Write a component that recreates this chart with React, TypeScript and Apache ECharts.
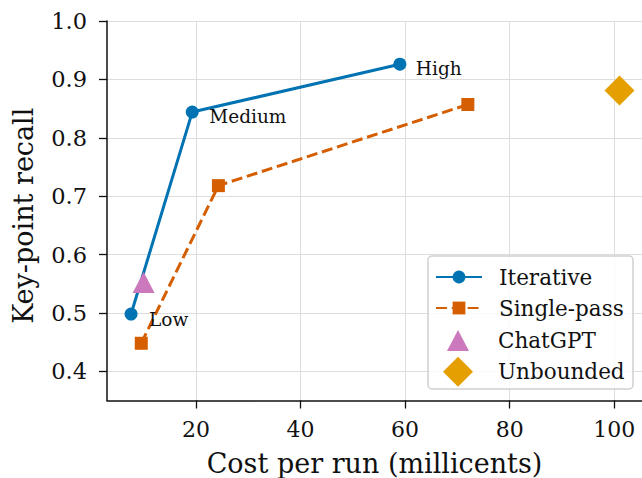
import React, { useEffect, useRef } from "react";
import * as echarts from "echarts";

const pointLabels = ["Low", "Medium", "High"];
const iterativeX = [7.6, 19.3, 59.0];
const iterativeY = [0.498, 0.844, 0.926];
const singleX = [9.55, 24.3, 72.0];
const singleY = [0.448, 0.718, 0.857];
const chatgptX = [10.0];
const chatgptY = [0.552];
const unboundedX = [101.0];
const unboundedY = [0.881];
const xTicks = [20, 40, 60, 80, 100];
const yTicks = [0.4, 0.5, 0.6, 0.7, 0.8, 0.9, 1.0];

const FONT = "DejaVu Serif";
const BLUE = "#0173b2";
const ORANGE = "#d55e00";
const PINK = "#cc78bc";
const GOLD = "#e69f00";
const INK = "#111";

export default function App() {
  const ref = useRef<HTMLDivElement>(null);
  useEffect(() => {
    if (!ref.current) return;
    const chart = echarts.init(ref.current, null, { renderer: "svg" });
    const labelOffsets = [[11.5, 5.3], [10.5, 4.7], [9.5, 4]];
    const legendBase = {
      orient: "horizontal",
      padding: 0,
      z: 10,
      symbolKeepAspect: true,
    };
    const legendText = (pad: number) => ({
      fontFamily: FONT,
      fontSize: 21.5,
      color: INK,
      padding: [0, 0, 0, pad],
    });
    chart.setOption({
      animation: false,
      backgroundColor: "#fff",
      grid: { left: 107, top: 21, right: 0, bottom: 77.5, containLabel: false, outerBoundsMode: "none" },
      xAxis: {
        type: "value",
        min: 3,
        max: 105.3,
        name: "Cost per run (millicents)",
        nameLocation: "middle",
        nameGap: 49,
        nameTextStyle: { fontFamily: FONT, fontSize: 27, lineHeight: 27, color: INK },
        axisLine: { show: true, lineStyle: { color: INK, width: 1.5 } },
        axisTick: { show: true, length: 8, customValues: xTicks, lineStyle: { color: INK, width: 1.3 } },
        axisLabel: { customValues: xTicks, margin: 18, fontFamily: FONT, fontSize: 22, color: INK },
        splitLine: { show: true, lineStyle: { color: "#dddddd", width: 1 } },
      },
      yAxis: {
        type: "value",
        min: 0.35,
        max: 1.0,
        name: "Key-point recall",
        nameLocation: "middle",
        nameGap: 70,
        nameTextStyle: { fontFamily: FONT, fontSize: 27, color: INK, padding: [0, 10, 0, 0] },
        axisLine: { show: true, lineStyle: { color: INK, width: 1.5 } },
        axisTick: { show: true, length: 8, customValues: yTicks, lineStyle: { color: INK, width: 1.3 } },
        axisLabel: {
          customValues: yTicks,
          margin: 20,
          fontFamily: FONT,
          fontSize: 22.5,
          color: INK,
          formatter: (v: number) => v.toFixed(1),
        },
        splitLine: { show: true, lineStyle: { color: "#dddddd", width: 1 } },
      },
      legend: [
        { ...legendBase, data: ["Iterative"], left: 435, top: 266, itemWidth: 46, itemHeight: 16, textStyle: legendText(12) },
        { ...legendBase, data: ["Single-pass"], left: 435, top: 297, itemWidth: 46, itemHeight: 16, textStyle: legendText(12) },
        { ...legendBase, data: ["ChatGPT"], left: 447, top: 329.5, itemWidth: 22, itemHeight: 21, textStyle: legendText(24) },
        { ...legendBase, data: ["Unbounded"], left: 443, top: 356.7, itemWidth: 30, itemHeight: 30, textStyle: legendText(20) },
      ],
      graphic: [
        {
          type: "rect",
          z: 9,
          shape: { x: 428, y: 256, width: 205, height: 133, r: 4 },
          style: { fill: "rgba(255,255,255,0.85)", stroke: "#d0d0d0", lineWidth: 1.5 },
        },
      ],
      series: [
        {
          name: "Iterative",
          type: "line",
          data: iterativeX.map((x, i) => ({
            value: [x, iterativeY[i]],
            label: {
              show: true,
              position: "right",
              distance: labelOffsets[i][0],
              offset: [0, labelOffsets[i][1]],
              formatter: pointLabels[i],
              fontFamily: FONT,
              fontSize: 18.5,
              color: INK,
            },
          })),
          symbol: "circle",
          symbolSize: 13,
          lineStyle: { color: BLUE, width: 3 },
          itemStyle: { color: BLUE },
          z: 3,
        },
        {
          name: "Single-pass",
          type: "line",
          data: singleX.map((x, i) => [x, singleY[i]]),
          symbol: "rect",
          symbolSize: 13,
          lineStyle: { color: ORANGE, width: 3, type: [11, 4.8] },
          itemStyle: { color: ORANGE },
          z: 2,
        },
        {
          name: "ChatGPT",
          type: "scatter",
          data: chatgptX.map((x, i) => [x, chatgptY[i]]),
          symbol: "triangle",
          symbolSize: [22, 21],
          itemStyle: { color: PINK, opacity: 1 },
          z: 4,
        },
        {
          name: "Unbounded",
          type: "scatter",
          data: unboundedX.map((x, i) => [x, unboundedY[i]]),
          symbol: "diamond",
          symbolSize: 30,
          itemStyle: { color: GOLD, opacity: 1 },
          z: 4,
        },
      ],
    });
    return () => chart.dispose();
  }, []);
  return (
    <div
      ref={ref}
      style={{ position: "fixed", left: 0, top: 0, width: 642, height: 478, background: "#fff" }}
    />
  );
}
